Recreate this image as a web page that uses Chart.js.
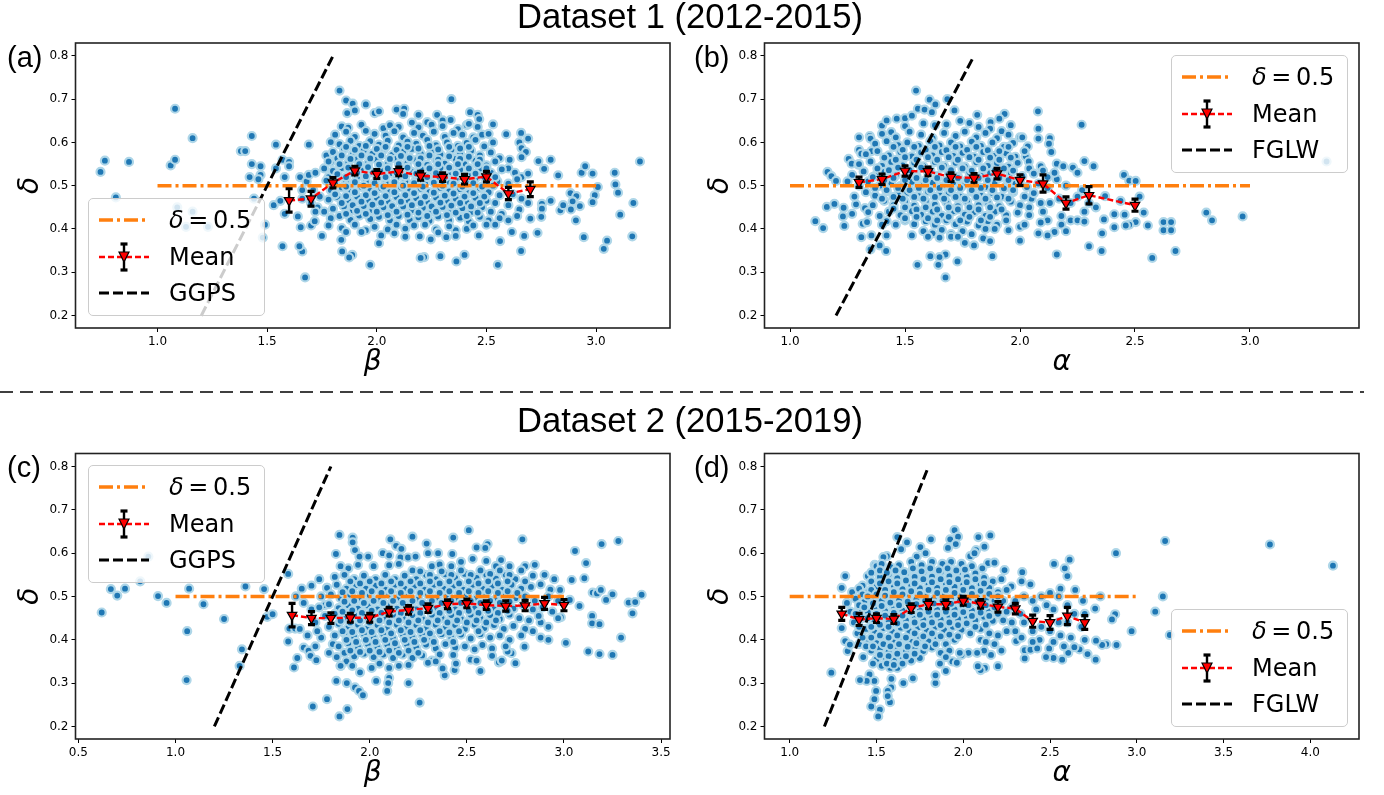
<!DOCTYPE html>
<html><head><meta charset="utf-8">
<script src="https://cdn.jsdelivr.net/npm/chart.js@4"></script>
<style>
html,body{margin:0;padding:0;background:#fff;overflow:hidden}
#page{position:relative;width:1384px;height:795px;overflow:hidden}
canvas{position:absolute}
.title{position:absolute;left:-2px;width:1384px;text-align:center;font:34.6px "Liberation Sans",sans-serif;color:#000;white-space:nowrap}
.tag{position:absolute;font:29px "Liberation Sans",sans-serif;color:#000}
.legend{position:absolute;width:175px;height:116px;background:rgba(255,255,255,.8);border:1px solid #ccc;border-radius:5px}
.legend svg{position:absolute;left:0;top:0}
.legend span{position:absolute;left:80px;font:24px "DejaVu Sans",sans-serif;line-height:30px;color:#000;white-space:nowrap}
#sep{position:absolute;left:0;top:391px}
</style></head><body><div id="page"></div>
<script>
const yTicks=[0.2,0.3,0.4,0.5,0.6,0.7,0.8];
const xTicksA=[1.0,1.5,2.0,2.5,3.0], xTicksB=[1.0,1.5,2.0,2.5,3.0];
const xTicksC=[0.5,1.0,1.5,2.0,2.5,3.0,3.5], xTicksD=[1.0,1.5,2.0,2.5,3.0,3.5,4.0];
const refX=[1.0,3.0], refY=[0.5,0.5];
const modelX=[1.2,1.8], modelY=[0.2,0.8];

const meanXA=[1.6,1.7,1.8,1.9,2.0,2.1,2.2,2.3,2.4,2.5,2.6,2.7];
const meanYA=[.466,.47,.507,.535,.527,.533,.523,.52,.515,.521,.482,.492];
const errA=[.027,.017,.012,.01,.01,.01,.01,.01,.011,.012,.014,.017];
const meanXB=[1.3,1.4,1.5,1.6,1.7,1.8,1.9,2.0,2.1,2.2,2.3,2.5];
const meanYB=[.508,.515,.534,.533,.52,.518,.528,.513,.505,.46,.478,.455];
const errB=[.012,.012,.012,.01,.01,.01,.012,.012,.02,.014,.02,.014];
const meanXC=[1.6,1.7,1.8,1.9,2.0,2.1,2.2,2.3,2.4,2.5,2.6,2.7,2.8,2.9,3.0];
const meanYC=[.457,.45,.45,.451,.451,.465,.469,.473,.482,.484,.48,.478,.479,.484,.48];
const errC=[.027,.015,.012,.01,.01,.01,.01,.01,.01,.01,.01,.012,.012,.014,.013];
const meanXD=[1.3,1.4,1.5,1.6,1.7,1.8,1.9,2.0,2.1,2.2,2.3,2.4,2.5,2.6,2.7];
const meanYD=[.46,.447,.45,.448,.473,.482,.482,.49,.483,.476,.472,.443,.44,.455,.44];
const errD=[.015,.014,.01,.01,.01,.01,.01,.01,.01,.012,.012,.014,.016,.02,.016];

// scatter values: x,y,x,y,...
const scatterA=[.74,.532,.76,.558,.81,.473,.87,.555,1.06,.547,1.08,.56,1.08,.678,1.16,.61,1.09,.45,1.13,.405,1.16,.44,1.23,.405,1.38,.58,1.4,.58,1.42,.52,1.43,.55,1.43,.615,1.47,.545,1.47,.525,1.46,.515,1.49,.41,1.48,.38,1.44,.47,1.53,.455,1.54,.54,1.56,.465,1.57,.56,1.58,.52,1.6,.555,1.6,.545,1.54,.595,1.57,.36,1.58,.435,
1.83,.72,1.86,.697,1.89,.69,1.95,.688,1.865,.668,1.9,.674,1.99,.668,2.01,.672,2.09,.676,2.125,.678,2.12,.666,2.19,.664,2.275,.664,2.23,.647,2.34,.7,2.425,.67,2.46,.664,2.467,.654,2.337,.652,2.3,.651,2.37,.631,2.41,.64,2.53,.642,2.59,.619,2.658,.622,2.69,.609,2.65,.6,2.66,.587,2.68,.578,2.66,.566,2.606,.56,2.737,.557,2.793,.56,2.763,.539,2.827,.524,3.008,.497,3.2,.556,3.085,.53,2.984,.528,2.934,.53,2.95,.545,3.088,.503,3.1,.484,2.994,.478,2.984,.462,3.17,.46,3.11,.433,2.908,.42,2.944,.381,3.05,.373,3.035,.354,3.165,.383,2.883,.483,2.91,.476,2.893,.464,2.926,.453,2.885,.445,2.837,.443,2.85,.455,2.793,.465,2.753,.458,2.753,.447,2.7,.424,2.75,.428,2.733,.391,2.672,.384,2.616,.393,2.562,.372,2.658,.349,2.552,.317,2.4,.34,2.363,.325,2.29,.337,2.216,.335,2.2,.333,1.97,.317,1.888,.34,1.874,.334,1.842,.348,1.673,.288,1.66,.348,1.647,.36,2.01,.367,1.838,.375,1.75,.384,2.246,.376,2.196,.383,2.317,.381,2.465,.385,2.36,.397,1.653,.404,1.7,.408,1.717,.418,1.64,.429,1.69,.595,
1.65,.52,1.68,.51,1.66,.49,1.69,.525,1.72,.53,1.71,.49,1.74,.475,1.73,.45,1.76,.44,1.7,.46,1.66,.47,1.78,.52,1.79,.555,1.77,.57,1.76,.54,1.72,.44,
1.84,.637,1.87,.634,1.93,.641,2.03,.633,2.06,.64,2.1,.636,2.16,.646,2.19,.635,2.25,.641,2.3,.638,2.42,.643,2.46,.636,
1.81,.618,1.86,.625,1.9,.613,1.95,.627,1.99,.62,2.04,.616,2.08,.626,2.12,.612,2.17,.622,2.21,.616,2.26,.625,2.31,.613,2.35,.622,2.39,.618,2.44,.612,2.48,.618,2.51,.62,
1.79,.601,1.83,.596,1.88,.604,1.92,.592,1.97,.603,2.01,.595,2.05,.604,2.1,.593,2.14,.602,2.18,.597,2.23,.606,2.27,.594,2.32,.6,2.37,.592,2.41,.599,2.45,.606,2.49,.591,2.53,.6,
1.8,.578,1.85,.584,1.89,.572,1.94,.581,1.98,.574,2.03,.583,2.07,.571,2.12,.579,2.16,.585,2.2,.574,2.25,.58,2.29,.572,2.34,.583,2.38,.574,2.43,.581,2.47,.57,2.52,.577,2.56,.564,
1.78,.556,1.82,.563,1.87,.553,1.91,.561,1.96,.552,2,.56,2.05,.55,2.09,.562,2.14,.553,2.18,.559,2.23,.548,2.27,.56,2.31,.551,2.36,.562,2.4,.55,2.45,.558,2.5,.547,2.54,.556,2.6,.54,
1.8,.534,1.84,.541,1.89,.53,1.93,.54,1.98,.531,2.02,.538,2.07,.529,2.11,.542,2.16,.532,2.2,.539,2.25,.53,2.29,.541,2.34,.531,2.38,.537,2.43,.528,2.47,.54,2.52,.53,2.57,.538,2.63,.53,2.66,.52,2.69,.528,
1.77,.512,1.82,.518,1.86,.508,1.91,.52,1.95,.51,2,.517,2.04,.507,2.09,.519,2.13,.51,2.18,.516,2.22,.507,2.27,.518,2.32,.509,2.36,.516,2.41,.506,2.45,.517,2.5,.508,2.55,.51,2.6,.505,2.64,.515,
1.79,.49,1.84,.496,1.88,.486,1.93,.497,1.97,.488,2.02,.494,2.06,.485,2.11,.496,2.15,.487,2.2,.493,2.24,.485,2.29,.495,2.33,.487,2.38,.492,2.42,.483,2.47,.494,2.51,.485,2.56,.478,2.62,.48,2.66,.47,
1.78,.468,1.82,.474,1.87,.465,1.91,.475,1.96,.466,2,.472,2.05,.463,2.09,.474,2.14,.465,2.18,.471,2.23,.462,2.27,.473,2.32,.464,2.36,.47,2.41,.461,2.45,.472,2.5,.465,2.54,.46,2.6,.455,2.65,.445,2.69,.46,
1.8,.447,1.85,.452,1.89,.443,1.94,.453,1.98,.444,2.03,.45,2.07,.441,2.12,.452,2.16,.443,2.21,.449,2.25,.44,2.3,.451,2.34,.442,2.39,.448,2.43,.439,2.48,.45,2.52,.44,2.57,.435,2.64,.43,
1.79,.425,1.83,.43,1.88,.421,1.92,.431,1.97,.423,2.01,.428,2.06,.42,2.1,.43,2.15,.421,2.19,.427,2.24,.419,2.28,.429,2.33,.42,2.38,.426,2.42,.417,2.47,.428,2.51,.42,2.56,.425,2.6,.42,
1.78,.408,1.84,.402,1.9,.41,1.95,.397,1.99,.405,2.05,.399,2.09,.41,2.13,.401,2.17,.408,2.22,.41,2.27,.399,2.33,.406,2.41,.4,2.44,.408,2.5,.41,2.54,.41,2.02,.385,2.08,.39,2.13,.382,2.28,.392,2.36,.384,1.93,.393,1.86,.393,
1.86,.59,1.9,.583,1.95,.592,2,.585,2.04,.59,2.09,.583,2.14,.59,2.19,.586,2.24,.592,2.28,.584,2.33,.59,2.38,.586,2.42,.59,
1.84,.57,1.88,.562,1.93,.57,1.97,.563,2.02,.57,2.06,.562,2.11,.569,2.15,.564,2.2,.563,2.24,.57,2.28,.56,2.33,.568,2.38,.562,2.42,.567,2.47,.56,
1.83,.55,1.87,.542,1.92,.55,1.96,.543,2.01,.549,2.05,.54,2.1,.55,2.14,.542,2.19,.55,2.24,.54,2.28,.55,2.33,.542,2.37,.55,2.42,.54,2.46,.55,2.5,.54,
1.82,.527,1.86,.52,1.91,.53,1.95,.522,2,.528,2.04,.52,2.09,.53,2.13,.522,2.18,.528,2.23,.52,2.27,.529,2.31,.52,2.36,.528,2.4,.52,2.45,.528,2.49,.52,2.54,.52,
1.81,.505,1.86,.498,1.9,.508,1.94,.5,1.99,.506,2.03,.498,2.08,.508,2.12,.5,2.17,.506,2.21,.498,2.26,.507,2.3,.5,2.35,.505,2.39,.498,2.44,.506,2.48,.498,2.53,.5,
1.81,.48,1.86,.476,1.9,.485,1.95,.478,1.99,.483,2.04,.476,2.08,.485,2.13,.478,2.17,.483,2.22,.475,2.26,.484,2.31,.477,2.35,.482,2.4,.475,2.44,.483,2.49,.475,
1.84,.46,1.89,.455,1.93,.463,1.98,.456,2.02,.461,2.07,.453,2.11,.463,2.16,.455,2.2,.46,2.25,.452,2.29,.461,2.34,.454,2.38,.46,2.43,.452,2.47,.46,
1.86,.435,1.91,.442,1.95,.435,2,.44,2.05,.432,2.09,.44,2.14,.433,2.19,.438,2.23,.43,2.27,.44,2.32,.432,2.36,.438,2.41,.43,2.46,.438];

const scatterB=[1.548,.72,1.607,.699,1.632,.688,1.684,.7,1.556,.678,1.585,.676,1.617,.67,1.715,.674,1.814,.664,1.933,.666,1.91,.655,1.872,.647,2.078,.672,2.08,.632,2.268,.641,2.08,.609,2.13,.61,2.126,.597,2.136,.578,2.034,.591,2.025,.568,2.038,.556,2.16,.551,2.188,.545,2.28,.557,2.32,.545,2.23,.542,2.25,.53,2.452,.525,2.475,.512,2.503,.511,2.52,.475,2.538,.438,2.556,.408,2.624,.416,2.657,.416,2.624,.397,2.657,.397,2.676,.349,2.575,.333,2.81,.438,2.835,.42,2.968,.429,3.333,.556,2.503,.416,2.475,.41,2.46,.408,2.41,.404,2.41,.434,2.455,.433,2.437,.465,2.37,.476,2.365,.422,2.357,.39,2.355,.349,2.3,.36,2.16,.341,1.88,.337,1.728,.325,1.676,.341,1.65,.335,1.61,.337,1.554,.317,1.645,.317,1.676,.288,1.418,.349,1.39,.362,1.35,.353,1.354,.385,1.31,.381,1.236,.407,1.144,.402,1.11,.418,1.23,.429,1.27,.435,1.16,.451,1.193,.458,1.233,.449,1.287,.457,1.326,.448,1.34,.439,1.316,.412,1.335,.416,1.163,.532,1.18,.522,1.2,.511,1.255,.562,1.268,.551,1.297,.549,1.3,.612,1.347,.615,1.35,.609,1.3,.583,1.31,.574,1.4,.639,1.42,.651,1.464,.655,1.5,.656,1.53,.662,1.44,.624,1.354,.58,
2.12,.52,2.16,.515,2.2,.5,2.27,.49,2.25,.475,2.3,.46,2.33,.45,2.28,.44,2.22,.42,2.18,.41,2.2,.395,2.15,.393,2.12,.42,2.09,.415,2.1,.44,2.13,.46,2.17,.47,2.18,.43,2.12,.385,2,.373,2.22,.46,2.25,.42,2.28,.417,2.08,.39,2.05,.47,
1.5,.638,1.58,.644,1.63,.64,1.68,.642,1.74,.65,1.78,.645,1.82,.636,1.87,.632,1.96,.64,1.92,.626,
1.4,.62,1.46,.612,1.52,.625,1.57,.618,1.62,.61,1.67,.622,1.72,.615,1.76,.625,1.81,.612,1.85,.622,1.9,.61,1.95,.618,2,.612,
1.37,.597,1.42,.603,1.47,.594,1.51,.6,1.56,.592,1.61,.603,1.65,.593,1.7,.6,1.74,.591,1.79,.602,1.83,.592,1.88,.6,1.93,.59,1.97,.599,2.01,.612,
1.33,.573,1.38,.58,1.43,.57,1.48,.578,1.53,.568,1.57,.577,1.62,.57,1.66,.578,1.71,.569,1.75,.576,1.8,.567,1.84,.578,1.89,.569,1.94,.575,1.98,.567,2.02,.58,
1.3,.55,1.35,.556,1.4,.546,1.44,.555,1.49,.547,1.54,.553,1.58,.545,1.63,.555,1.67,.546,1.72,.553,1.76,.544,1.81,.554,1.86,.546,1.9,.552,1.95,.544,1.99,.553,2.04,.54,2.09,.545,
1.27,.525,1.32,.533,1.37,.523,1.41,.532,1.46,.524,1.51,.53,1.55,.522,1.6,.532,1.64,.523,1.69,.53,1.73,.521,1.78,.531,1.83,.523,1.87,.529,1.92,.52,1.96,.53,2.01,.522,2.06,.528,2.1,.535,2.15,.53,
1.25,.51,1.3,.5,1.34,.51,1.39,.5,1.44,.507,1.48,.499,1.53,.509,1.57,.5,1.62,.507,1.66,.498,1.71,.508,1.75,.5,1.8,.506,1.85,.497,1.89,.508,1.94,.499,1.98,.505,2.03,.497,2.08,.505,2.12,.495,
1.28,.475,1.33,.485,1.37,.477,1.42,.487,1.47,.479,1.51,.484,1.56,.476,1.6,.486,1.65,.478,1.69,.484,1.74,.475,1.79,.486,1.83,.477,1.88,.483,1.92,.475,1.97,.485,2.02,.475,2.06,.483,
1.36,.455,1.41,.465,1.45,.455,1.5,.463,1.54,.454,1.59,.464,1.63,.456,1.68,.462,1.73,.453,1.77,.463,1.82,.455,1.86,.461,1.91,.453,1.96,.463,2,.455,2.04,.45,2.09,.46,
1.39,.43,1.43,.44,1.48,.432,1.53,.441,1.57,.433,1.62,.44,1.66,.431,1.71,.441,1.76,.433,1.8,.439,1.85,.43,1.89,.44,1.94,.432,1.99,.438,2.04,.432,
1.42,.418,1.46,.41,1.5,.42,1.54,.411,1.59,.418,1.63,.41,1.68,.42,1.72,.411,1.77,.417,1.82,.408,1.86,.418,1.9,.41,1.94,.42,2,.405,2.02,.41,
1.58,.395,1.62,.39,1.66,.398,1.7,.388,1.75,.395,1.79,.388,1.85,.4,1.89,.4,1.95,.397,1.6,.382,1.65,.38,1.7,.382,1.73,.382,1.76,.368,1.8,.362,1.84,.378,1.87,.372,1.53,.385,1.4,.41,1.42,.385,
1.45,.59,1.49,.583,1.54,.59,1.59,.583,1.63,.59,1.68,.582,1.72,.59,1.77,.583,1.81,.59,1.86,.582,1.91,.58,1.95,.59,
1.41,.565,1.46,.56,1.5,.566,1.55,.56,1.6,.566,1.64,.56,1.69,.566,1.73,.56,1.78,.566,1.82,.56,1.87,.565,1.91,.56,1.96,.565,
1.38,.54,1.43,.536,1.47,.542,1.52,.536,1.57,.542,1.61,.536,1.66,.542,1.7,.536,1.75,.54,1.79,.535,1.84,.54,1.89,.535,1.93,.54,1.97,.535,
1.36,.52,1.41,.513,1.45,.518,1.5,.513,1.55,.518,1.59,.513,1.64,.518,1.68,.513,1.73,.518,1.77,.513,1.82,.518,1.86,.513,1.91,.518,1.95,.513,2,.512,
1.37,.495,1.42,.49,1.47,.495,1.52,.49,1.56,.495,1.61,.49,1.65,.495,1.7,.49,1.74,.495,1.79,.49,1.83,.495,1.88,.49,1.93,.494,1.97,.49,
1.4,.47,1.45,.474,1.49,.47,1.54,.474,1.58,.47,1.63,.474,1.67,.47,1.72,.474,1.76,.47,1.81,.474,1.85,.47,1.9,.473,1.95,.47,
1.45,.447,1.5,.45,1.55,.445,1.59,.45,1.64,.445,1.69,.45,1.73,.445,1.78,.45,1.82,.445,1.87,.45,1.92,.445,
1.5,.425,1.55,.428,1.6,.425,1.64,.42,1.69,.428,1.74,.42,1.78,.428,1.83,.42,1.87,.428];

const scatterC=[.62,.463,.667,.517,.7,.502,.74,.518,.818,.535,.86,.592,.91,.501,.954,.485,1.07,.518,1.144,.482,1.25,.448,1.06,.42,1.057,.307,1.36,.523,1.456,.517,1.58,.552,1.342,.378,1.33,.34,1.472,.453,1.5,.459,1.58,.396,1.586,.426,1.616,.426,1.627,.358,1.61,.336,1.66,.382,1.685,.375,1.72,.385,1.695,.363,1.725,.353,1.707,.246,1.78,.263,1.844,.223,1.885,.24,1.924,.29,1.945,.282,1.965,.272,1.828,.305,1.882,.3,2.033,.305,2.1,.312,2.095,.3,2.09,.282,2.2,.3,2.257,.255,2.386,.318,2.375,.334,2.437,.33,2.444,.345,2.57,.328,2.52,.354,2.55,.352,2.665,.348,2.68,.352,2.75,.346,2.73,.369,2.71,.373,2.797,.384,2.88,.405,2.92,.4,3.01,.393,2.92,.43,2.88,.44,2.984,.452,3.08,.478,3.03,.492,3.04,.538,3.105,.542,3.114,.577,3.057,.605,3.194,.621,3.28,.628,3.148,.509,3.17,.507,3.19,.515,3.217,.492,3.25,.505,3.333,.486,3.367,.487,3.4,.504,3.353,.461,3.145,.455,3.145,.438,3.183,.436,3.294,.405,3.125,.373,3.183,.367,3.25,.365,
1.844,.642,1.912,.636,1.912,.625,1.924,.607,1.826,.598,1.947,.592,1.992,.592,2.067,.6,2.1,.595,2.106,.632,2.136,.617,2.163,.61,2.158,.59,2.197,.59,2.22,.638,2.236,.592,2.293,.622,2.3,.6,2.352,.6,2.43,.636,2.425,.598,2.51,.653,2.55,.613,2.607,.621,2.595,.612,2.786,.632,2.676,.584,
1.65,.518,1.62,.5,1.66,.485,1.7,.47,1.72,.44,1.68,.41,1.75,.405,1.73,.42,1.74,.54,1.7,.525,1.78,.52,1.77,.48,1.64,.425,1.81,.39,1.79,.37,1.83,.36,1.85,.34,1.88,.35,
1.85,.57,1.89,.565,1.94,.573,2.02,.57,2.1,.572,2.15,.575,2.22,.56,2.32,.57,2.36,.574,2.42,.57,2.47,.58,2.53,.587,2.6,.582,2.65,.57,2.72,.57,2.8,.57,2.85,.573,2.78,.56,
1.82,.545,1.87,.55,1.92,.54,1.97,.548,2.03,.54,2.08,.55,2.13,.54,2.18,.548,2.24,.54,2.29,.55,2.34,.54,2.39,.551,2.44,.543,2.49,.552,2.55,.543,2.6,.55,2.65,.541,2.7,.55,2.75,.54,2.84,.548,2.9,.55,2.95,.54,
1.78,.52,1.83,.527,1.88,.518,1.93,.526,1.98,.518,2.03,.525,2.08,.516,2.13,.527,2.18,.518,2.23,.525,2.28,.516,2.33,.527,2.38,.518,2.43,.525,2.48,.516,2.53,.527,2.58,.518,2.63,.525,2.68,.516,2.73,.527,2.78,.518,2.83,.522,2.88,.528,2.93,.516,2.98,.515,
1.75,.5,1.8,.505,1.85,.496,1.9,.504,1.95,.495,2,.503,2.05,.494,2.1,.505,2.15,.496,2.2,.503,2.25,.494,2.3,.505,2.35,.496,2.4,.503,2.45,.494,2.5,.505,2.55,.496,2.6,.503,2.65,.494,2.7,.505,2.75,.496,2.8,.5,2.85,.49,2.92,.5,2.97,.49,
1.74,.475,1.79,.482,1.84,.473,1.89,.48,1.94,.472,1.99,.479,2.04,.47,2.09,.48,2.14,.472,2.19,.479,2.24,.47,2.29,.48,2.34,.472,2.39,.479,2.44,.47,2.49,.48,2.54,.472,2.59,.479,2.64,.47,2.69,.48,2.74,.472,2.79,.48,2.84,.47,2.89,.475,2.94,.465,
1.77,.455,1.82,.46,1.87,.451,1.92,.458,1.97,.45,2.02,.457,2.07,.448,2.12,.458,2.17,.45,2.22,.457,2.27,.448,2.32,.458,2.37,.45,2.42,.457,2.47,.448,2.52,.458,2.57,.45,2.62,.457,2.67,.448,2.72,.458,2.77,.45,2.82,.445,2.87,.455,2.97,.45,
1.79,.43,1.84,.437,1.89,.428,1.94,.435,1.99,.427,2.04,.434,2.09,.425,2.14,.435,2.19,.427,2.24,.434,2.29,.425,2.34,.435,2.39,.427,2.44,.434,2.49,.425,2.54,.435,2.59,.427,2.64,.434,2.69,.425,2.74,.432,2.8,.425,2.84,.42,
1.82,.41,1.87,.415,1.92,.406,1.97,.413,2.02,.405,2.07,.412,2.12,.403,2.17,.413,2.22,.405,2.27,.412,2.32,.403,2.37,.413,2.42,.405,2.47,.412,2.52,.403,2.57,.413,2.62,.405,2.67,.41,2.72,.4,2.78,.41,
1.84,.385,1.89,.392,1.94,.383,1.99,.39,2.04,.382,2.09,.389,2.14,.38,2.19,.39,2.24,.382,2.29,.389,2.34,.38,2.39,.39,2.44,.382,2.49,.385,2.54,.378,2.58,.388,2.63,.38,2.7,.385,
1.87,.37,1.92,.362,1.97,.368,2.02,.36,2.07,.366,2.12,.358,2.17,.366,2.22,.358,2.27,.364,2.32,.352,2.36,.366,2.43,.365,2.63,.363,
1.85,.34,1.91,.34,1.95,.325,2.01,.335,2.05,.345,2.1,.335,2.15,.34,2.2,.342,2.3,.347,2.34,.35,
2.26,.558,2.31,.55,2.37,.558,2.42,.55,2.47,.56,2.52,.55,2.57,.56,2.62,.552,2.67,.56,2.72,.55,
1.9,.535,1.95,.53,2,.535,2.06,.53,2.11,.535,2.16,.53,2.21,.535,2.26,.53,2.31,.535,2.36,.53,2.41,.535,2.46,.53,2.51,.535,2.56,.53,2.61,.535,2.66,.53,2.71,.535,2.8,.535,
1.86,.51,1.91,.512,1.96,.508,2.01,.512,2.06,.508,2.11,.512,2.16,.508,2.21,.512,2.26,.508,2.31,.512,2.36,.508,2.41,.512,2.46,.508,2.51,.512,2.56,.508,2.61,.512,2.66,.508,2.71,.512,2.76,.508,
1.87,.488,1.92,.49,1.97,.485,2.02,.49,2.07,.485,2.12,.49,2.17,.485,2.22,.49,2.27,.485,2.32,.49,2.37,.485,2.42,.49,2.47,.485,2.52,.49,2.57,.485,2.62,.49,2.67,.485,2.72,.488,
1.86,.465,1.91,.468,1.96,.462,2.01,.467,2.06,.462,2.11,.467,2.16,.462,2.21,.467,2.26,.462,2.31,.467,2.36,.462,2.41,.467,2.46,.462,2.51,.467,2.56,.462,2.61,.467,2.66,.462,2.71,.467,
1.85,.444,1.9,.44,1.95,.445,2,.44,2.05,.445,2.1,.44,2.15,.445,2.2,.44,2.25,.445,2.3,.44,2.35,.445,2.4,.44,2.45,.445,2.5,.44,2.55,.445,2.6,.44,2.65,.445,
1.86,.42,1.91,.418,1.96,.422,2.01,.418,2.06,.422,2.11,.415,2.16,.422,2.21,.418,2.26,.422,2.31,.415,2.36,.42,2.41,.417,2.46,.42,2.56,.42,
1.88,.4,1.93,.395,1.98,.4,2.03,.395,2.08,.4,2.13,.392,2.18,.4,2.23,.395,2.28,.4,2.33,.395,2.43,.395,
1.9,.375,1.95,.372,2,.375,2.05,.372,2.1,.375,2.15,.37,2.2,.375,2.25,.37];

const scatterD=[1.95,.653,1.925,.632,1.97,.638,1.957,.621,1.912,.612,1.814,.632,1.753,.614,1.783,.6,1.732,.592,1.62,.637,1.676,.625,1.642,.609,2.087,.637,2.156,.641,2.074,.607,2.122,.615,2.04,.593,2.065,.6,1.56,.593,1.54,.591,1.32,.547,1.3,.52,1.45,.547,1.49,.573,1.514,.563,2.143,.577,2.18,.578,2.238,.561,2.34,.556,2.336,.535,2.387,.528,2.277,.523,2.523,.575,2.585,.565,2.613,.585,2.6,.547,2.56,.518,2.645,.515,2.88,.6,2.79,.5,2.69,.49,2.76,.472,2.875,.459,2.857,.447,2.97,.42,3.106,.465,3.15,.5,3.19,.411,3.163,.628,3.767,.62,4.13,.571,2.883,.388,2.824,.39,2.8,.388,2.765,.398,2.716,.367,2.67,.378,2.64,.383,2.605,.37,2.763,.354,2.57,.354,2.52,.358,2.477,.36,2.354,.357,2.354,.376,2.387,.377,2.426,.38,2.495,.38,2.305,.397,2.336,.405,2.2,.339,2.125,.335,2.1,.33,2.084,.339,1.84,.3,1.84,.318,1.71,.311,1.655,.3,1.9,.328,1.937,.35,1.963,.347,1.866,.345,1.585,.29,1.586,.31,1.565,.282,1.578,.256,1.565,.27,1.52,.239,1.51,.223,1.47,.246,1.488,.263,1.498,.282,1.488,.305,1.46,.32,1.444,.305,1.405,.307,1.24,.324,1.424,.36,1.32,.397,1.334,.374,1.347,.389,1.3,.427,
2.3,.49,2.35,.5,2.4,.49,2.45,.5,2.5,.508,2.55,.5,2.42,.47,2.48,.48,2.52,.47,2.6,.48,2.64,.46,2.7,.46,2.68,.43,2.6,.44,2.55,.44,2.5,.42,2.45,.43,2.4,.42,2.35,.44,2.3,.42,2.56,.41,2.62,.405,2.52,.395,2.58,.385,2.7,.4,2.44,.4,2.4,.395,2.25,.42,2.2,.41,2.18,.39,2.22,.375,2.16,.365,2.12,.375,2.08,.37,2.03,.37,1.99,.365,
1.5,.57,1.53,.575,1.58,.568,1.63,.572,1.7,.58,1.76,.572,1.82,.58,1.88,.575,1.93,.58,1.99,.575,2.05,.57,2.11,.565,
1.42,.525,1.47,.535,1.52,.545,1.57,.55,1.62,.542,1.67,.553,1.72,.545,1.77,.555,1.82,.546,1.87,.556,1.92,.547,1.97,.553,2.02,.545,2.07,.553,2.12,.543,2.17,.535,2.22,.54,
1.36,.51,1.4,.518,1.45,.51,1.5,.522,1.55,.515,1.6,.525,1.65,.517,1.7,.527,1.75,.519,1.8,.529,1.85,.52,1.9,.53,1.95,.522,2,.528,2.05,.519,2.1,.528,2.15,.52,2.2,.51,2.25,.515,
1.33,.485,1.38,.495,1.43,.488,1.48,.498,1.53,.49,1.58,.5,1.63,.491,1.68,.502,1.73,.493,1.78,.503,1.83,.494,1.88,.504,1.93,.495,1.98,.502,2.03,.493,2.08,.503,2.13,.494,2.18,.49,2.23,.49,2.28,.475,
1.35,.465,1.4,.472,1.45,.464,1.5,.474,1.55,.466,1.6,.476,1.65,.467,1.7,.477,1.75,.468,1.8,.478,1.85,.469,1.9,.478,1.95,.47,2,.476,2.05,.467,2.1,.476,2.15,.467,2.2,.46,2.25,.465,2.33,.46,
1.37,.44,1.42,.45,1.47,.442,1.52,.452,1.57,.444,1.62,.453,1.67,.445,1.72,.454,1.77,.446,1.82,.455,1.87,.447,1.92,.455,1.97,.448,2.02,.454,2.07,.445,2.12,.453,2.17,.444,2.23,.445,2.28,.44,
1.39,.415,1.44,.425,1.49,.417,1.54,.427,1.59,.419,1.64,.428,1.69,.42,1.74,.429,1.79,.421,1.84,.43,1.89,.422,1.94,.43,1.99,.423,2.04,.415,2.1,.425,2.15,.415,
1.4,.39,1.45,.4,1.5,.392,1.55,.402,1.6,.394,1.65,.403,1.7,.395,1.75,.404,1.8,.396,1.85,.405,1.9,.39,1.95,.4,2.1,.4,2.13,.395,
1.47,.375,1.52,.38,1.57,.372,1.62,.381,1.67,.373,1.72,.382,1.77,.374,1.82,.382,1.87,.37,1.92,.375,1.98,.37,
1.5,.355,1.55,.36,1.6,.352,1.65,.36,1.7,.352,1.75,.358,1.53,.34,1.58,.335,1.62,.335,1.48,.345,1.44,.385,1.9,.36,
1.47,.555,1.52,.56,1.56,.555,1.61,.56,1.66,.556,1.71,.565,1.76,.558,1.81,.565,1.86,.56,1.91,.565,1.96,.56,2.01,.562,
1.42,.505,1.47,.515,1.52,.53,1.57,.535,1.62,.53,1.67,.537,1.72,.53,1.77,.54,1.82,.533,1.87,.54,1.92,.533,1.97,.54,2.02,.533,2.07,.54,2.12,.53,
1.4,.48,1.45,.5,1.5,.505,1.55,.502,1.6,.51,1.65,.505,1.7,.512,1.75,.506,1.8,.515,1.85,.508,1.9,.515,1.95,.508,2,.515,2.05,.506,2.1,.513,2.15,.506,2.2,.5,
1.38,.46,1.43,.475,1.48,.484,1.53,.478,1.58,.486,1.63,.48,1.68,.488,1.73,.482,1.78,.49,1.83,.484,1.88,.49,1.93,.483,1.98,.49,2.03,.48,2.08,.488,2.13,.48,2.18,.475,
1.4,.43,1.45,.45,1.5,.46,1.55,.456,1.6,.462,1.65,.456,1.7,.464,1.75,.458,1.8,.465,1.85,.458,1.9,.465,1.95,.458,2,.464,2.05,.455,2.1,.463,2.15,.455,
1.42,.405,1.47,.43,1.52,.435,1.57,.43,1.62,.438,1.67,.432,1.72,.44,1.77,.434,1.82,.44,1.87,.434,1.92,.44,1.97,.434,2.02,.438,2.07,.43,2.13,.435,
1.47,.405,1.52,.41,1.57,.405,1.62,.41,1.67,.405,1.72,.415,1.77,.408,1.82,.415,1.87,.408,1.92,.412,1.97,.408,
1.48,.385,1.54,.39,1.58,.385,1.63,.39,1.68,.384,1.73,.392,1.78,.385,1.84,.39,
1.52,.365,1.57,.362,1.62,.368,1.67,.362,1.72,.368,1.56,.345,1.6,.342,1.65,.345];

const panels=[
 {tag:'(a)',tagX:7,tagY:41,left:0,top:0,w:690,h:380,pl:75.5,pt:43,pr:20,xMin:.626,xMax:3.337,xTicks:xTicksA,pts:scatterA,mx:meanXA,my:meanYA,me:errA,xl:'β',model:'GGPS',lx:88,ly:198},
 {tag:'(b)',tagX:694,tagY:41,left:690,top:0,w:694,h:380,pl:74.5,pt:43,pr:25,xMin:.889,xMax:3.474,xTicks:xTicksB,pts:scatterB,mx:meanXB,my:meanYB,me:errB,xl:'α',model:'FGLW',lx:1171,ly:55},
 {tag:'(c)',tagX:7,tagY:451,left:0,top:400,w:690,h:391,pl:75.5,pt:53.5,pr:20,xMin:.485,xMax:3.546,xTicks:xTicksC,pts:scatterC,mx:meanXC,my:meanYC,me:errC,xl:'β',model:'GGPS',lx:88,ly:465},
 {tag:'(d)',tagX:694,tagY:451,left:690,top:400,w:694,h:391,pl:74.5,pt:53.5,pr:25,xMin:.855,xMax:4.28,xTicks:xTicksD,pts:scatterD,mx:meanXD,my:meanYD,me:errD,xl:'α',model:'FGLW',lx:1171,ly:609}
];
const page=document.getElementById('page');
function add(cls,html,x,y){const d=document.createElement('div');d.className=cls;d.innerHTML=html;if(x!=null)d.style.left=x+'px';d.style.top=y+'px';page.appendChild(d);return d;}
function xy(xs,ys){return xs.map((x,i)=>({x:x,y:ys[i]}));}
function pairs(f){const o=[];for(let i=0;i<f.length;i+=2)o.push({x:f[i],y:f[i+1]});return o;}

function frameAndErr(p){return {id:'frameAndErr',
 beforeDatasetDraw(c,a){ if(a.index!==3)return; const ct=c.ctx,X=c.scales.x,Y=c.scales.y;
  ct.save();ct.strokeStyle='#000';
  p.mx.forEach((x,i)=>{const px=X.getPixelForValue(x),hi=Y.getPixelForValue(p.my[i]+p.me[i]),lo=Y.getPixelForValue(p.my[i]-p.me[i]);
   ct.lineWidth=2.4;ct.beginPath();ct.moveTo(px,hi);ct.lineTo(px,lo);ct.stroke();
   ct.lineWidth=3.2;ct.beginPath();ct.moveTo(px-3.5,hi);ct.lineTo(px+3.5,hi);ct.moveTo(px-3.5,lo);ct.lineTo(px+3.5,lo);ct.stroke();});
  ct.restore();},
 afterDraw(c){const a=c.chartArea,ct=c.ctx;ct.save();ct.strokeStyle='#222';ct.lineWidth=1.6;ct.strokeRect(a.left,a.top,a.right-a.left,a.bottom-a.top);ct.restore();}
};}

panels.forEach(p=>{
 const cv=document.createElement('canvas');cv.width=p.w;cv.height=p.h;
 cv.style.cssText=`left:${p.left}px;top:${p.top}px;width:${p.w}px;height:${p.h}px`;page.appendChild(cv);
 new Chart(cv,{type:'scatter',
  data:{datasets:[
   {label:'points',data:pairs(p.pts),backgroundColor:'#1f77b4',borderColor:'#aed6e8',borderWidth:2.2,pointRadius:4,pointHoverRadius:4,order:4},
   {label:'δ = 0.5',data:xy(refX,refY),showLine:true,borderColor:'#ff7f0e',borderWidth:3.4,borderDash:[14,4,3,4],pointRadius:0,order:3},
   {label:p.model,data:xy(modelX,modelY),showLine:true,borderColor:'#000',borderWidth:3,borderDash:[10,4],pointRadius:0,order:2},
   {label:'Mean',data:xy(p.mx,p.my),showLine:true,borderColor:'#f00',borderWidth:2.4,borderDash:[6,3],pointStyle:'triangle',rotation:180,pointRadius:5.5,backgroundColor:'#f00',pointBorderColor:'#000',pointBorderWidth:1.2,order:1}
  ]},
  plugins:[frameAndErr(p)],
  options:{responsive:false,animation:false,devicePixelRatio:1,
   layout:{padding:{left:0,right:p.pr,top:p.pt,bottom:0}},
   plugins:{legend:{display:false},tooltip:{enabled:false},title:{display:false}},
   scales:{
    x:{type:'linear',min:p.xMin,max:p.xMax,afterBuildTicks:s=>{s.ticks=p.xTicks.map(v=>({value:v}));},afterFit:s=>{s.height=52;},
     grid:{drawOnChartArea:false,drawTicks:true,tickLength:4,color:'#000'},border:{display:false},
     ticks:{callback:v=>Number(v).toFixed(1),color:'#000',font:{family:'DejaVu Sans',size:12},maxRotation:0,autoSkip:false,padding:3},
     title:{display:true,text:p.xl,color:'#000',font:{family:'DejaVu Sans',size:28,style:'italic'},padding:{top:0,bottom:0}}},
    y:{type:'linear',min:.171,max:.83,afterBuildTicks:s=>{s.ticks=yTicks.map(v=>({value:v}));},afterFit:s=>{s.width=p.pl;},
     grid:{drawOnChartArea:false,drawTicks:true,tickLength:4,color:'#000'},border:{display:false},
     ticks:{callback:v=>Number(v).toFixed(1),color:'#000',font:{family:'DejaVu Sans',size:12},autoSkip:false,padding:3},
     title:{display:true,text:'δ',color:'#000',font:{family:'DejaVu Sans',size:28,style:'italic'},padding:{top:14,bottom:0}}}
   }}});
 add('tag',p.tag,p.tagX,p.tagY);
 add('legend',`<svg width="175" height="116">
  <line x1="10" x2="60" y1="21" y2="21" stroke="#ff7f0e" stroke-width="3.4" stroke-dasharray="14 4 3 4"/>
  <line x1="10" x2="60" y1="58" y2="58" stroke="#f00" stroke-width="2.4" stroke-dasharray="6 3"/>
  <line x1="35" x2="35" y1="45" y2="71" stroke="#000" stroke-width="2.4"/>
  <line x1="31.5" x2="38.5" y1="45" y2="45" stroke="#000" stroke-width="3.2"/><line x1="31.5" x2="38.5" y1="71" y2="71" stroke="#000" stroke-width="3.2"/>
  <polygon points="30,53 40,53 35,63" fill="#f00" stroke="#000" stroke-width="1.2"/>
  <line x1="10" x2="60" y1="94" y2="94" stroke="#000" stroke-width="3" stroke-dasharray="10 4"/></svg>
  <span style="top:6px;word-spacing:-3px"><i>δ</i> = 0.5</span><span style="top:43px">Mean</span><span style="top:79px">${p.model}</span>`,p.lx,p.ly);
});
add('title','Dataset 1 (2012-2015)',null,-3);
add('title','Dataset 2 (2015-2019)',null,401);
const sep=document.createElement('canvas');sep.id='sep';sep.width=1364;sep.height=2;page.appendChild(sep);
const sc=sep.getContext('2d');sc.setLineDash([13,7]);sc.lineWidth=1.4;sc.strokeStyle='#000';sc.beginPath();sc.moveTo(0,1);sc.lineTo(1364,1);sc.stroke();
</script></body></html>
